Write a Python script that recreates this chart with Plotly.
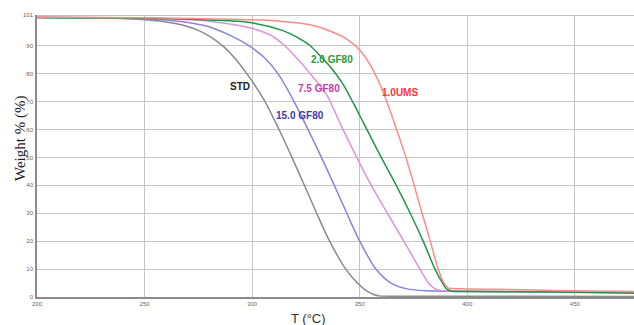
import plotly.graph_objects as go

# ---- data ----
std_T = [200, 235, 250, 260, 268, 275, 281, 287, 292, 297.5, 302, 306, 312.5, 318.5, 324.3, 330, 336, 343.5, 349, 353.5, 356.5, 359, 380, 478]
std_W = [100.2, 99.8, 99.3, 98.5, 97.3, 95.5, 93, 89.5, 85.5, 80, 75, 70, 60, 50, 40, 30, 20, 10, 5, 2.0, 0.9, 0.4, 0.3, 0.2]

gf15_T = [200, 250, 268, 280, 290, 298.5, 306, 312, 319.5, 326, 332.2, 338.2, 344, 350, 357.5, 364.5, 371.5, 381, 400, 478]
gf15_W = [100.2, 99.7, 98.6, 96.8, 93.6, 90, 85.5, 80, 70, 60, 50, 40, 30, 20, 10, 5, 3, 2.2, 2.0, 1.7]

gf75_T = [200, 250, 280, 299, 308, 314, 320, 327, 334.6, 341, 348, 355, 362.5, 370.5, 378, 382, 384.5, 387, 392, 478]
gf75_W = [100.2, 99.9, 98.8, 96.4, 94, 90.8, 86.2, 80, 72.5, 62, 51, 40.5, 30.5, 20, 10, 5, 3.2, 2.4, 2.2, 1.8]

gf20_T = [200, 250, 280, 299, 314, 321, 327, 331.5, 336.5, 342, 347, 352, 360, 367, 373.5, 379.5, 385, 388.5, 390.5, 393, 400, 440, 478]
gf20_W = [100.0, 99.8, 99.2, 98.3, 95.5, 93, 90, 86.5, 82.3, 76.5, 69.5, 62, 50, 40, 30, 20, 10, 5, 2.8, 2.1, 2.0, 1.8, 1.3]

ums_T = [200, 250, 300, 313, 327, 337, 344, 350, 355, 359.5, 364, 368, 371.5, 375.3, 379, 382.8, 386.5, 389, 391, 393, 400, 420, 440, 478]
ums_W = [100.2, 100.0, 99.3, 98.8, 97.5, 95, 92.4, 88.5, 83, 76, 67, 58, 50, 40, 30, 20, 10, 5.2, 3.3, 3.0, 2.9, 2.7, 2.3, 2.0]

series_names = ["STD", "15.0 GF80", "7.5 GF80", "2.0 GF80", "1.0UMS"]
line_colors = ["#8a8a8a", "#8585e2", "#e192d6", "#1f9546", "#ff8a8a"]
label_colors = ["#222222", "#3a3ab0", "#c040a8", "#2a9a3a", "#ff3535"]
series = [(std_T, std_W), (gf15_T, gf15_W), (gf75_T, gf75_W), (gf20_T, gf20_W), (ums_T, ums_W)]

label_T = [294.3, 322.2, 331.0, 337.1, 368.7]
label_W = [75.5, 65.1, 74.8, 84.9, 73.4]

x_ticks = [200, 250, 300, 350, 400, 450]
y_ticks = [0, 10, 20, 30, 40, 50, 60, 70, 80, 90, 101]

fig = go.Figure()
for (T, W), name, col in zip(series, series_names, line_colors):
    fig.add_trace(go.Scatter(x=T, y=W, mode="lines", name=name,
                             line=dict(color=col, width=1.5, shape="spline", smoothing=0.8),
                             showlegend=False))

for name, t, w, c in zip(series_names, label_T, label_W, label_colors):
    fig.add_annotation(x=t, y=w, xref="x", yref="y", text="<b>%s</b>" % name,
                       showarrow=False, font=dict(family="Liberation Sans, Arial", size=10, color=c))

fig.add_annotation(x=(20 - 37) / 597, y=(297 - 139) / 282, xref="paper", yref="paper",
                   xanchor="center", yanchor="middle", text="Weight % (%)",
                   textangle=-90, showarrow=False,
                   font=dict(family="Liberation Serif, Times New Roman", size=15, color="#222222"))
fig.add_annotation(x=(308 - 37) / 597, y=-(318 - 297) / 282, xref="paper", yref="paper",
                   xanchor="center", yanchor="middle", text="T (°C)",
                   showarrow=False,
                   font=dict(family="Liberation Sans, Arial", size=13, color="#333333"))

fig.update_layout(
    width=634, height=325,
    margin=dict(l=37, r=0, t=15, b=28),
    paper_bgcolor="white", plot_bgcolor="white",
    xaxis=dict(range=[200, 477.5], tickvals=x_ticks, ticktext=[str(v) for v in x_ticks],
               showgrid=True, gridcolor="#c6c6c6", gridwidth=1.3,
               showline=True, linecolor="#8c8c8c", linewidth=1.6,
               zeroline=False, ticks="", tickfont=dict(size=6, color="#666666"), ticklabelstandoff=0),
    yaxis=dict(range=[0, 101], tickvals=y_ticks, ticktext=[str(v) for v in y_ticks],
               showgrid=True, gridcolor="#c6c6c6", gridwidth=1.3,
               showline=True, linecolor="#8c8c8c", linewidth=1.6,
               zeroline=False, ticks="", tickfont=dict(size=6, color="#666666"), ticklabelstandoff=1),
    font=dict(family="Liberation Sans, Arial"),
)
# darker top boundary line at 101
fig.add_shape(type="line", xref="paper", yref="y", x0=0, x1=1, y0=101, y1=101,
              line=dict(color="#a8a8a8", width=1.6), layer="below")

fig.write_html("out.html")
